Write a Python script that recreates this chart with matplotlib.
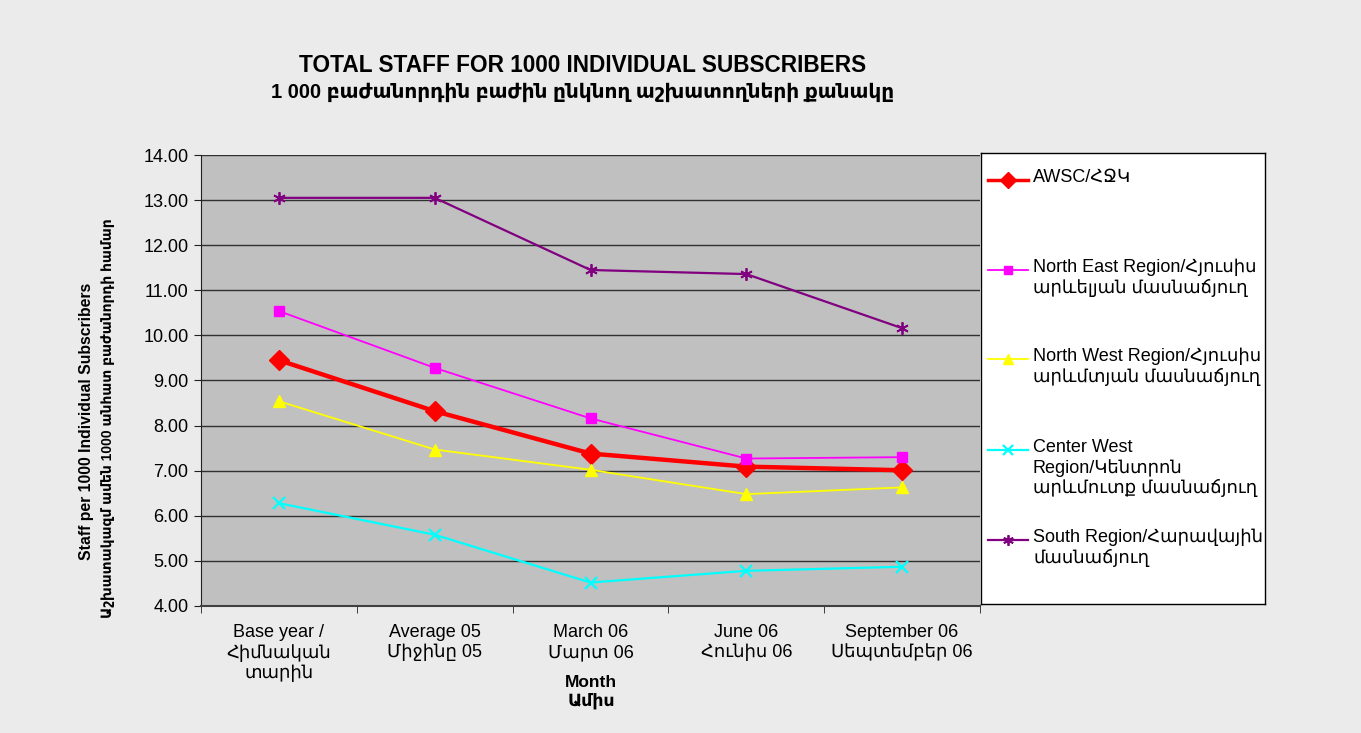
import numpy as np
import matplotlib
matplotlib.use("Agg")
import matplotlib.pyplot as plt

plt.rcParams['font.family'] = ['Liberation Sans', 'DejaVu Sans']

# data
categories = ["Base year /\nՀիմնական\nտարին", "Average 05\nՄիջինը 05", "March 06\nՄարտ 06",
              "June 06\nՀունիս 06", "September 06\nՍեպտեմբեր 06"]
awsc = [9.45, 8.32, 7.38, 7.09, 7.01]
north_east = [10.54, 9.28, 8.16, 7.27, 7.30]
north_west = [8.54, 7.47, 7.02, 6.48, 6.63]
center_west = [6.28, 5.58, 4.52, 4.78, 4.87]
south = [13.05, 13.05, 11.45, 11.36, 10.16]

series_names = ["AWSC/ՀՋԿ",
                "North East Region/Հյուսիս\nարևելյան մասնաճյուղ",
                "North West Region/Հյուսիս\nարևմտյան մասնաճյուղ",
                "Center West\nRegion/Կենտրոն\nարևմուտք մասնաճյուղ",
                "South Region/Հարավային\nմասնաճյուղ"]

styles = [
    dict(color="#ff0000", lw=3.2, marker="D", ms=10),
    dict(color="#ff00ff", lw=1.3, marker="s", ms=7.5),
    dict(color="#ffff00", lw=1.3, marker="^", ms=8.5),
    dict(color="#00ffff", lw=1.6, marker="x", ms=8, mew=1.6),
    dict(color="#800080", lw=1.6, marker=(6, 2, 0), ms=9, mew=1.3),
]
all_series = [awsc, north_east, north_west, center_west, south]

W, H = 1361, 733
fig = plt.figure(figsize=(W / 100, H / 100), dpi=100)
fig.patch.set_facecolor("#ebebeb")

def fx(px):
    return px / W

def fy(py):
    return 1 - py / H

ax = fig.add_axes([fx(201), fy(606), fx(980) - fx(201), fy(155) - fy(606)])
ax.set_facecolor("#c0c0c0")

x = np.arange(len(categories))
for vals, st in zip(all_series, styles):
    ax.plot(x, vals, **st, zorder=3)

ax.set_xlim(-0.5, len(categories) - 0.5)
ax.set_ylim(4, 14)
ax.set_yticks(np.arange(4, 14.01, 1))
ax.set_yticklabels([f"{v:.2f}" for v in np.arange(4, 14.01, 1)], fontsize=13)
ax.yaxis.grid(True, color="#303030", lw=1)
ax.set_axisbelow(True)

ax.set_xticks(x)
ax.set_xticklabels(categories, fontsize=13, linespacing=1.22)
ax.set_xticks(np.arange(-0.5, len(categories)), minor=True)
ax.tick_params(axis="x", which="major", length=0, pad=13)
ax.tick_params(axis="x", which="minor", length=5, color="#202020")
ax.tick_params(axis="y", length=5, color="#202020", pad=4)
for s in ["top", "right"]:
    ax.spines[s].set_visible(False)
ax.spines["left"].set_color("#202020")
ax.spines["bottom"].set_color("#404040")
ax.spines["bottom"].set_linewidth(1.5)

# axis titles
fig.text(fx(591), fy(692), "Month\nԱմիս", ha="center", va="center",
         fontsize=12.5, fontweight="bold", linespacing=1.25)
fig.text(fx(87), fy(421), "Staff per 1000 Individual Subscribers",
         ha="center", va="center", rotation=90, fontsize=11.3, fontweight="bold")
fig.text(fx(108), fy(418), "Աշխատակազմ ամեն 1000 անհատ բաժանորդի համար",
         ha="center", va="center", rotation=90, fontsize=10, fontweight="bold")

# chart title
fig.text(fx(583), fy(66), "TOTAL STAFF FOR 1000 INDIVIDUAL SUBSCRIBERS",
         ha="center", va="center", fontsize=16.3, fontweight="bold")
fig.text(fx(583), fy(92), "1 000 բաժանորդին բաժին ընկնող աշխատողների քանակը",
         ha="center", va="center", fontsize=14.5, fontweight="bold")

# legend box
lax = fig.add_axes([fx(981), fy(604), fx(1265) - fx(981), fy(153) - fy(604)])
lax.set_facecolor("white")
lax.set_xlim(981, 1265)
lax.set_ylim(604, 153)
lax.set_xticks([])
lax.set_yticks([])
for s in lax.spines.values():
    s.set_color("black")
    s.set_linewidth(1)

entry_y = [180, 270, 359, 450, 540]
for name, st, yy in zip(series_names, styles, entry_y):
    lax.plot([988, 1028], [yy, yy], color=st["color"], lw=min(st["lw"], 2.5))
    lax.plot([1008], [yy], marker=st["marker"], color=st["color"],
             ms=st["ms"] * 0.85, mew=st.get("mew", 1), lw=0)
    lax.text(1033, yy - 11, name, ha="left", va="top", fontsize=13, linespacing=1.2)

fig.savefig("out.png", dpi=100, facecolor=fig.get_facecolor())
